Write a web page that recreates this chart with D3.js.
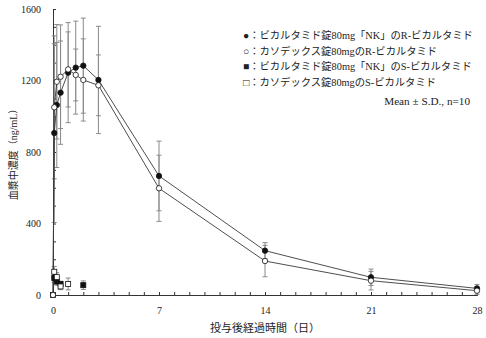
<!DOCTYPE html>
<html>
<head>
<meta charset="utf-8">
<script src="https://cdn.jsdelivr.net/npm/d3@7"></script>
<style>
  html, body { margin: 0; padding: 0; background: #fff; }
  svg { display: block; }
  text { font-family: "Liberation Serif", "Noto Sans CJK JP", serif; fill: #222; }
</style>
</head>
<body>
<svg id="chart" width="486" height="338"></svg>
<script>
// Sampling times (days after dosing)
const days = [0, 0.083, 0.25, 0.5, 1, 1.5, 2, 3, 7, 14, 21, 28];

// R-bicalutamide, tablet "NK" (filled circles)
const rNK    = [0, 906, 1063, 1132, 1244, 1272, 1283, 1203, 666, 248, 99, 37];
const rNKsd  = [0, 500, 350, 289, 280, 260, 266, 300, 195, 45, 46, 22];
// R-bicalutamide, Casodex tablet (open circles)
const rCas   = [0, 1050, 1193, 1221, 1262, 1231, 1203, 1173, 597, 190, 80, 24];
const rCassd = [0, 400, 320, 290, 210, 145, 230, 170, 185, 88, 52, 20];

// S-bicalutamide (squares, no connecting line)
const sNKdays  = [0.083, 0.25, 0.5, 2];
const sNK      = [95, 75, 62, 55];
const sNKsd    = [25, 20, 15, 24];
const sCasdays = [0, 0.083, 0.25, 0.5, 1];
const sCas     = [0, 130, 100, 48, 62];
const sCassd   = [0, 30, 25, 18, 33];

const xMajor = [0, 7, 14, 21, 28];
const yMajor = [0, 400, 800, 1200, 1600];

const legendLabels = [
  "●：ビカルタミド錠80mg「NK」のR-ビカルタミド",
  "○：カソデックス錠80mgのR-ビカルタミド",
  "■：ビカルタミド錠80mg「NK」のS-ビカルタミド",
  "□：カソデックス錠80mgのS-ビカルタミド"
];
const noteText = "Mean ± S.D., n=10";
const xTitle = "投与後経過時間（日）";
const yTitle = "血漿中濃度（ng/mL）";

const svg = d3.select("#chart");
const x = d3.scaleLinear().domain([0, 28]).range([53, 477]);
const y = d3.scaleLinear().domain([0, 1600]).range([295, 9]);

const axisColor = "#333";
const barColor = "#8a8a8a";
const lineColor = "#3a3a3a";

// Axes: ticks point inward, minor ticks every day / every 100 ng/mL
const gx = svg.append("g").attr("transform", `translate(0,${y(0)})`);
gx.call(d3.axisBottom(x).tickValues(d3.range(0, 29, 1)).tickSize(-3).tickFormat(""));
gx.append("g").call(d3.axisBottom(x).tickValues(xMajor).tickSize(0).tickPadding(12).tickFormat(d3.format("d")));
gx.selectAll("path.domain").attr("stroke", axisColor);
gx.selectAll(".tick line").attr("stroke", axisColor);
gx.selectAll("text").attr("font-size", 10).attr("fill", "#222")
  .attr("font-family", "Liberation Serif, serif");
gx.select("g").select("path.domain").remove();

const gy = svg.append("g").attr("transform", `translate(${x(0)},0)`);
gy.call(d3.axisLeft(y).tickValues(d3.range(0, 1601, 100)).tickSize(-3).tickFormat(""));
gy.append("g").call(d3.axisLeft(y).tickValues(yMajor).tickSize(0).tickPadding(12).tickFormat(d3.format("d")));
gy.selectAll("path.domain").attr("stroke", axisColor);
gy.selectAll(".tick line").attr("stroke", axisColor);
gy.selectAll("text").attr("font-size", 10).attr("fill", "#222")
  .attr("font-family", "Liberation Serif, serif");
gy.select("g").select("path.domain").remove();

// Error bars
function errorBars(ts, vals, sds) {
  const g = svg.append("g").attr("stroke", barColor).attr("stroke-width", 1).attr("fill", "none");
  ts.forEach((t, i) => {
    if (!sds[i]) return;
    const cx = x(t), top = y(vals[i] + sds[i]), bot = y(Math.max(0, vals[i] - sds[i]));
    g.append("line").attr("x1", cx).attr("x2", cx).attr("y1", top).attr("y2", bot);
    g.append("line").attr("x1", cx - 2.5).attr("x2", cx + 2.5).attr("y1", top).attr("y2", top);
    g.append("line").attr("x1", cx - 2.5).attr("x2", cx + 2.5).attr("y1", bot).attr("y2", bot);
  });
}
errorBars(days, rNK, rNKsd);
errorBars(days, rCas, rCassd);
errorBars(sNKdays, sNK, sNKsd);
errorBars(sCasdays, sCas, sCassd);

// Connecting lines for R-bicalutamide
const line = d3.line().x(d => x(d[0])).y(d => y(d[1]));
svg.append("path").datum(days.map((t, i) => [t, rNK[i]]))
  .attr("d", line).attr("fill", "none").attr("stroke", lineColor).attr("stroke-width", 0.9);
svg.append("path").datum(days.map((t, i) => [t, rCas[i]]))
  .attr("d", line).attr("fill", "none").attr("stroke", lineColor).attr("stroke-width", 0.9);

// Markers
function circles(ts, vals, fill) {
  svg.append("g").selectAll("circle").data(ts.map((t, i) => [t, vals[i]])).join("circle")
    .attr("cx", d => x(d[0])).attr("cy", d => y(d[1])).attr("r", 2.7)
    .attr("fill", fill).attr("stroke", "#111").attr("stroke-width", 0.8);
}
function squares(ts, vals, fill) {
  const s = 5;
  svg.append("g").selectAll("rect").data(ts.map((t, i) => [t, vals[i]])).join("rect")
    .attr("x", d => x(d[0]) - s / 2).attr("y", d => y(d[1]) - s / 2)
    .attr("width", s).attr("height", s)
    .attr("fill", fill).attr("stroke", "#111").attr("stroke-width", 0.8);
}
squares(sNKdays, sNK, "#111");
squares(sCasdays, sCas, "#fff");
circles(days, rNK, "#111");
circles(days, rCas, "#fff");

// Legend
const lg = svg.append("g").attr("font-size", 10.3);
legendLabels.forEach((t, i) => {
  lg.append("text").attr("x", 243).attr("y", 39 + i * 15.5).text(t);
});
lg.append("text").attr("x", 470).attr("y", 105).attr("text-anchor", "end")
  .attr("font-size", 11.2).text(noteText);

// Axis titles
svg.append("text").attr("x", 265).attr("y", 332).attr("text-anchor", "middle")
  .attr("font-size", 11).text(xTitle);
svg.append("text").attr("transform", `translate(17,${y(800)}) rotate(-90)`)
  .attr("text-anchor", "middle").attr("font-size", 10).text(yTitle);
</script>
</body>
</html>
